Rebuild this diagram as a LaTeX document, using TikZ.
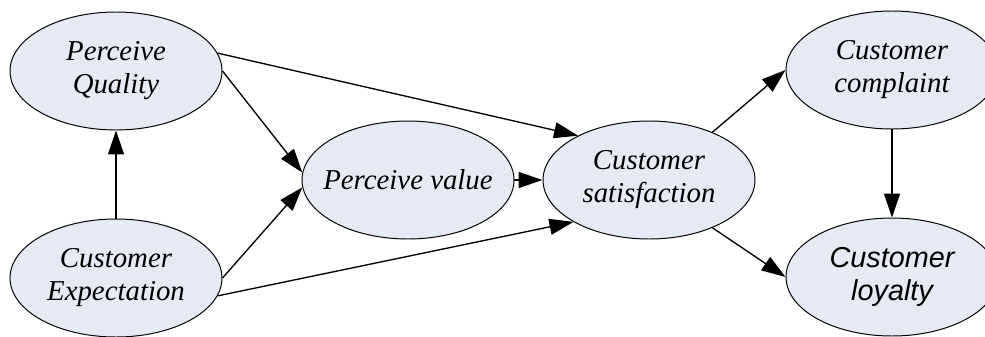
\documentclass[tikz,border=0pt]{standalone}
\usepackage{fontspec}
\setmainfont{Liberation Serif}
\newfontfamily\loyfont{Liberation Sans}
\usetikzlibrary{shapes.geometric, positioning, arrows.meta}
\definecolor{ellfill}{RGB}{230,234,245}
\tikzset{
  node distance=5.175cm,
  every node/.style={font=\fontsize{20.5}{23.5}\selectfont\itshape, align=center},
  ell/.style={ellipse, draw, line width=0.7pt, fill=ellfill,
    minimum width=5.3cm, minimum height=2.95cm, inner xsep=-1cm, inner ysep=0pt},
  sans/.style={font=\loyfont\fontsize{20.5}{23.5}\selectfont\itshape},
  link/.style={-{Triangle[length=0.6cm,width=0.4cm]}, line width=0.95pt},
}
\begin{document}
\begin{tikzpicture}
  \useasboundingbox (0,0) rectangle (24.625,-8.4);

  \node[ell] (pq) at (2.9,-1.775) {Perceive\\Quality};
  \node[ell,below of=pq] (ce) {Customer\\Expectation};
  \node[ell] (pv) at (10.2,-4.5) {Perceive value};
  \node[ell,right of=pv,node distance=6.025cm] (cs) {Customer\\satisfaction};
  \node[ell] (cc) at (22.3,-1.75) {Customer\\complaint};
  \node[ell,sans,below of=cc] (cl) {Customer\\loyalty};

  \draw[link] (ce) -- (pq);
  \draw[link] (pq.east) -- (pv.176);
  \draw[link] (ce.east) -- (pv.184);
  \draw[link] (pq.10) -- (cs.148);
  \draw[link] (ce.-10) -- (cs.209);
  \draw[link] (pv) -- (cs);
  \draw[link] (cs.37) -- (cc.west);
  \draw[link] (cs.-37) -- (cl.west);
  \draw[link] (cc) -- (cl);
\end{tikzpicture}
\end{document}
